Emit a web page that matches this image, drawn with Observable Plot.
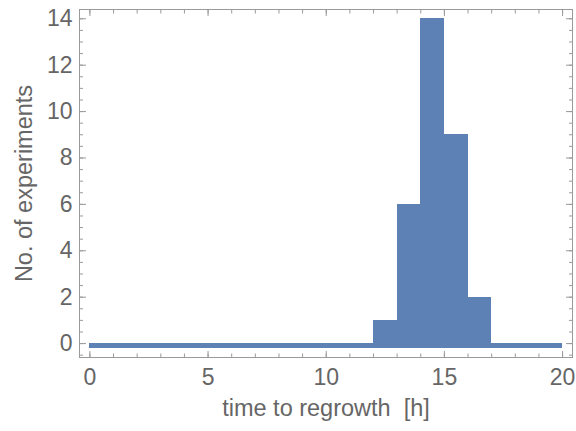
<!DOCTYPE html>
<html>
<head>
<meta charset="utf-8">
<script src="https://cdn.jsdelivr.net/npm/d3@7"></script>
<script src="https://cdn.jsdelivr.net/npm/@observablehq/plot@0.6"></script>
<style>
  html, body { margin: 0; padding: 0; background: #fff; }
</style>
</head>
<body>
<div id="chart"></div>
<script>
// Histogram of regrowth times, one-hour bins from 0 to 20 h
const binStarts = [0, 1, 2, 3, 4, 5, 6, 7, 8, 9, 10, 11, 12, 13, 14, 15, 16, 17, 18, 19];
const counts    = [0, 0, 0, 0, 0, 0, 0, 0, 0, 0, 0, 0, 1, 6, 14, 9, 2, 0, 0, 0];
const binWidth = 1;
const barBase = -0.22; // bars start slightly below zero so empty bins still show

// Axis ticks
const xMajor = [0, 5, 10, 15, 20];
const xMinor = d3.range(0, 21, 1);
const yMajor = [0, 2, 4, 6, 8, 10, 12, 14];
const yMinor = d3.range(-0.5, 14.01, 0.5);

const xLabel = "time to regrowth  [h]";
const yLabel = "No. of experiments";

const bins = binStarts.map((s, i) => ({ x1: s, x2: s + binWidth, count: counts[i] }));

const frameColor = "#9a9a9a";
const textColor = "#666666";
const barColor = "#5E81B5";
const tickFont = 23;
const titleFont = 23.5;

const blank = () => "";
const tickOpts = { stroke: frameColor, tickFormat: blank, label: null };

const chart = Plot.plot({
  width: 576,
  height: 431,
  marginLeft: 79,
  marginRight: 4,
  marginTop: 9,
  marginBottom: 74,
  x: { domain: [-0.44, 20.42] },
  y: { domain: [-0.6, 14.4] },
  style: { fontFamily: "'Liberation Sans', Arial, sans-serif", background: "#fff", color: textColor },
  marks: [
    Plot.rect(bins, { x1: "x1", x2: "x2", y1: barBase, y2: "count", fill: barColor, shapeRendering: "crispEdges" }),
    Plot.frame({ stroke: frameColor, strokeWidth: 1 }),

    // inward ticks on all four sides
    Plot.axisX(xMinor, { ...tickOpts, anchor: "bottom", tickSize: 3.5, dy: -3.5 }),
    Plot.axisX(xMajor, { ...tickOpts, anchor: "bottom", tickSize: 6, dy: -6 }),
    Plot.axisX(xMinor, { ...tickOpts, anchor: "top", tickSize: 3.5, dy: 3.5 }),
    Plot.axisX(xMajor, { ...tickOpts, anchor: "top", tickSize: 6, dy: 6 }),
    Plot.axisY(yMinor, { ...tickOpts, anchor: "left", tickSize: 4, dx: 4 }),
    Plot.axisY(yMajor, { ...tickOpts, anchor: "left", tickSize: 7, dx: 7 }),
    Plot.axisY(yMinor, { ...tickOpts, anchor: "right", tickSize: 4, dx: -4 }),
    Plot.axisY(yMajor, { ...tickOpts, anchor: "right", tickSize: 7, dx: -7 }),

    // tick labels
    Plot.axisX(xMajor, { anchor: "bottom", tickSize: 0, tickPadding: 11, fontSize: tickFont, fill: textColor, label: null }),
    Plot.axisY(yMajor, { anchor: "left", tickSize: 0, tickPadding: 7, fontSize: tickFont, fill: textColor, label: null }),

    // axis titles
    Plot.text([xLabel], { frameAnchor: "bottom", dy: 58, fontSize: titleFont, fill: textColor, text: d => d }),
    Plot.text([yLabel], { frameAnchor: "left", dx: -55, rotate: -90, textAnchor: "middle", fontSize: titleFont, fill: textColor, text: d => d })
  ]
});

document.getElementById("chart").appendChild(chart);
</script>
</body>
</html>
